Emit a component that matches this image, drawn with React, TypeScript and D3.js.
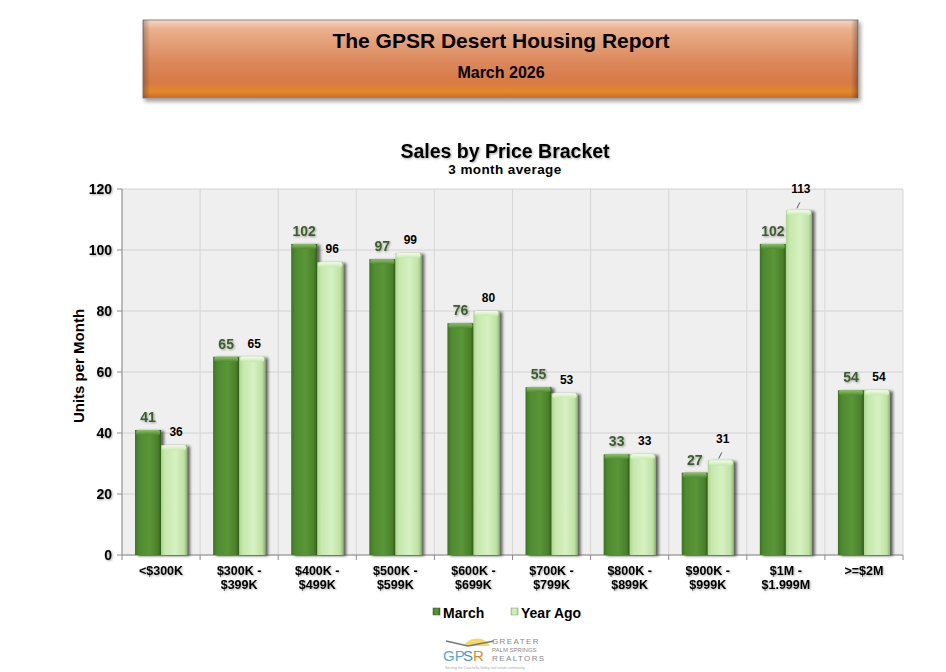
import React from "react";
import * as d3 from "d3";

const categories = [
  ["<$300K"],
  ["$300K -", "$399K"],
  ["$400K -", "$499K"],
  ["$500K -", "$599K"],
  ["$600K -", "$699K"],
  ["$700K -", "$799K"],
  ["$800K -", "$899K"],
  ["$900K -", "$999K"],
  ["$1M -", "$1.999M"],
  [">=$2M"],
];
const march = [41, 65, 102, 97, 76, 55, 33, 27, 102, 54];
const yearAgo = [36, 65, 96, 99, 80, 53, 33, 31, 113, 54];
const yTicks = [0, 20, 40, 60, 80, 100, 120];
const seriesNames = ["March", "Year Ago"];
const leaderIdx = [7, 8];

const W = 946, H = 672;
const left = 122, right = 903, top = 189, bottom = 555;

export default function App() {
  const x = d3.scaleBand<number>().domain(d3.range(categories.length)).range([left, right]);
  const y = d3.scaleLinear().domain([0, 120]).range([bottom, top]);
  const bw = x.bandwidth();
  const barW = bw / 3;
  const x0 = (i: number) => (x(i) as number) + bw / 6;
  const font = "Arial, 'Liberation Sans', sans-serif";

  return (
    <div style={{ position: "absolute", left: 0, top: 0 }}>
      <svg width={W} height={H} style={{ display: "block", background: "#fff" }} fontFamily={font}>
        <defs>
          <linearGradient id="banner" x1="0" y1="0" x2="0" y2="1">
            <stop offset="0" stopColor="#f6d7c2" />
            <stop offset="0.12" stopColor="#eab08c" />
            <stop offset="0.55" stopColor="#db875a" />
            <stop offset="0.8" stopColor="#d77a45" />
            <stop offset="0.92" stopColor="#e3892c" />
            <stop offset="1" stopColor="#c86a28" />
          </linearGradient>
          <linearGradient id="bannerSide" x1="0" y1="0" x2="1" y2="0">
            <stop offset="0" stopColor="#000" stopOpacity="0.25" />
            <stop offset="0.01" stopColor="#000" stopOpacity="0" />
            <stop offset="0.99" stopColor="#000" stopOpacity="0" />
            <stop offset="1" stopColor="#000" stopOpacity="0.3" />
          </linearGradient>
          <linearGradient id="dark" x1="0" y1="0" x2="1" y2="0">
            <stop offset="0" stopColor="#3d7321" />
            <stop offset="0.15" stopColor="#4f8a2f" />
            <stop offset="0.55" stopColor="#5a9638" />
            <stop offset="0.88" stopColor="#4a8029" />
            <stop offset="1" stopColor="#2f5a1a" />
          </linearGradient>
          <linearGradient id="light" x1="0" y1="0" x2="1" y2="0">
            <stop offset="0" stopColor="#aed490" />
            <stop offset="0.15" stopColor="#c6e8ad" />
            <stop offset="0.55" stopColor="#d6f1c2" />
            <stop offset="0.88" stopColor="#bfe2a4" />
            <stop offset="1" stopColor="#8fb473" />
          </linearGradient>
          <linearGradient id="capDark" x1="0" y1="0" x2="0" y2="1">
            <stop offset="0" stopColor="#8cc06a" />
            <stop offset="1" stopColor="#4f8a2f" />
          </linearGradient>
          <linearGradient id="capLight" x1="0" y1="0" x2="0" y2="1">
            <stop offset="0" stopColor="#f2fde8" />
            <stop offset="1" stopColor="#c6e8ad" />
          </linearGradient>
          <filter id="shadow" x="-30%" y="-10%" width="170%" height="130%">
            <feGaussianBlur in="SourceAlpha" stdDeviation="1.5" />
            <feOffset dx="3" dy="1" result="b" />
            <feComponentTransfer><feFuncA type="linear" slope="0.6" /></feComponentTransfer>
            <feMerge><feMergeNode /><feMergeNode in="SourceGraphic" /></feMerge>
          </filter>
          <filter id="tshadow" x="-20%" y="-20%" width="150%" height="150%">
            <feGaussianBlur in="SourceAlpha" stdDeviation="0.8" />
            <feOffset dx="1.2" dy="1.2" />
            <feComponentTransfer><feFuncA type="linear" slope="0.35" /></feComponentTransfer>
            <feMerge><feMergeNode /><feMergeNode in="SourceGraphic" /></feMerge>
          </filter>
          <filter id="bshadow" x="-5%" y="-10%" width="110%" height="130%">
            <feGaussianBlur in="SourceAlpha" stdDeviation="2" />
            <feOffset dx="2" dy="3" />
            <feComponentTransfer><feFuncA type="linear" slope="0.4" /></feComponentTransfer>
            <feMerge><feMergeNode /><feMergeNode in="SourceGraphic" /></feMerge>
          </filter>
        </defs>

        {/* Banner */}
        <g filter="url(#bshadow)">
          <rect x={143} y={20} width={715} height={78} fill="url(#banner)" stroke="#8a8a8a" strokeWidth={1} />
        </g>
        <rect x={143} y={20} width={715} height={78} fill="url(#bannerSide)" />
        <text x={501} y={48} textAnchor="middle" fontSize={21} fontWeight="bold" fill="#000">The GPSR Desert Housing Report</text>
        <text x={501} y={78} textAnchor="middle" fontSize={16} fontWeight="bold" fill="#000">March 2026</text>

        {/* Chart title */}
        <text x={505} y={158} textAnchor="middle" fontSize={19.5} fontWeight="bold" fill="#000" filter="url(#tshadow)">Sales by Price Bracket</text>
        <text x={505} y={174} textAnchor="middle" fontSize={13.5} fontWeight="bold" fill="#000" letterSpacing={0.4}>3 month average</text>

        {/* Plot area */}
        <rect x={left} y={top} width={right - left} height={bottom - top} fill="#efefef" />
        {yTicks.map((t) => (
          <line key={"h" + t} x1={left} x2={right} y1={y(t)} y2={y(t)} stroke="#d2d2d2" strokeWidth={1} />
        ))}
        {d3.range(categories.length + 1).map((i) => {
          const xv = i < categories.length ? (x(i) as number) : right;
          return <line key={"v" + i} x1={xv} x2={xv} y1={top} y2={bottom} stroke="#d6d6d6" strokeWidth={1} />;
        })}

        {/* Axes */}
        <line x1={left} x2={left} y1={top} y2={bottom} stroke="#8c8c8c" />
        <line x1={left} x2={right} y1={bottom} y2={bottom} stroke="#8c8c8c" />
        {yTicks.map((t) => (
          <g key={"yt" + t}>
            <line x1={left - 5} x2={left} y1={y(t)} y2={y(t)} stroke="#8c8c8c" />
            <text x={left - 10} y={y(t) + 5} textAnchor="end" fontSize={14} fontWeight="bold" fill="#000" filter="url(#tshadow)">{t}</text>
          </g>
        ))}
        {d3.range(categories.length + 1).map((i) => {
          const xv = i < categories.length ? (x(i) as number) : right;
          return <line key={"xt" + i} x1={xv} x2={xv} y1={bottom} y2={bottom + 5} stroke="#8c8c8c" />;
        })}
        {categories.map((lines, i) => (
          <text key={"xl" + i} textAnchor="middle" fontSize={12.5} fontWeight="bold" fill="#000" filter="url(#tshadow)">
            {lines.map((l, j) => (
              <tspan key={j} x={(x(i) as number) + bw / 2} y={575 + j * 14}>{l}</tspan>
            ))}
          </text>
        ))}

        {/* Y label */}
        <text transform={`translate(84,366) rotate(-90)`} textAnchor="middle" fontSize={15} fontWeight="bold" fill="#000">Units per Month</text>

        {/* Bars */}
        {categories.map((_, i) => {
          const xm = x0(i);
          const xa = xm + barW;
          const ym = y(march[i]);
          const ya = y(yearAgo[i]);
          return (
            <g key={"b" + i}>
              <g filter="url(#shadow)">
                <rect x={xm} y={ym} width={barW} height={bottom - ym} fill="url(#dark)" />
                <rect x={xm + 1} y={ym} width={barW - 2} height={5} fill="url(#capDark)" rx={2} />
              </g>
              <g filter="url(#shadow)">
                <rect x={xa} y={ya} width={barW} height={bottom - ya} fill="url(#light)" />
                <rect x={xa + 1} y={ya} width={barW - 2} height={5} fill="url(#capLight)" rx={2} />
              </g>
            </g>
          );
        })}

        {/* Labels */}
        {categories.map((_, i) => {
          const xm = x0(i) + barW / 2;
          const xa = x0(i) + barW * 1.5;
          const ym = y(march[i]);
          const ya = y(yearAgo[i]);
          const lead = leaderIdx.includes(i);
          const labY = lead ? ya - 17 : ya - 9;
          return (
            <g key={"l" + i}>
              <text x={xm} y={ym - 8} textAnchor="middle" fontSize={14} fontWeight="bold" fill="#3b5e2b" filter="url(#tshadow)">{march[i]}</text>
              <text x={xa + 2} y={labY} textAnchor="middle" fontSize={12} fill="#000" fontWeight="600">{yearAgo[i]}</text>
              {lead && <line x1={xa - 2} y1={ya - 2} x2={xa + 1} y2={ya - 8} stroke="#333" strokeWidth={0.8} />}
            </g>
          );
        })}

        {/* Legend */}
        <rect x={433} y={608} width={7} height={7} fill="url(#dark)" stroke="#2f5a1a" strokeWidth={0.5} />
        <text x={443} y={618} fontSize={14} fontWeight="bold" fill="#000">{seriesNames[0]}</text>
        <rect x={511} y={608} width={7} height={7} fill="url(#light)" stroke="#7fa064" strokeWidth={0.5} />
        <text x={521} y={618} fontSize={14} fontWeight="bold" fill="#000">{seriesNames[1]}</text>

        {/* Logo */}
        <g>
          <path d="M 464 646 A 14 12 0 0 1 490 646 Z" fill="#f6d44a" opacity={0.85} />
          <path d="M 446 641 L 468 646 L 494 641" fill="none" stroke="#777" strokeWidth={1.5} />
          <text x={443} y={661} fontSize={15} fill="#5aa6d8" fontFamily={font}>GP</text>
          <text x={463} y={661} fontSize={15} fill="#4a8fc8" fontFamily={font}>S</text>
          <text x={473} y={661} fontSize={15} fill="#e2882a" fontFamily={font}>R</text>
          <text x={492} y={644} fontSize={8} fill="#888" letterSpacing={1.4}>GREATER</text>
          <text x={492} y={652} fontSize={6} fill="#888">PALM SPRINGS</text>
          <text x={492} y={661} fontSize={8} fill="#888" letterSpacing={1.4}>REALTORS</text>
          <text x={445} y={669} fontSize={3.5} fill="#aaa">Serving the Coachella Valley real estate community</text>
        </g>
      </svg>
    </div>
  );
}
